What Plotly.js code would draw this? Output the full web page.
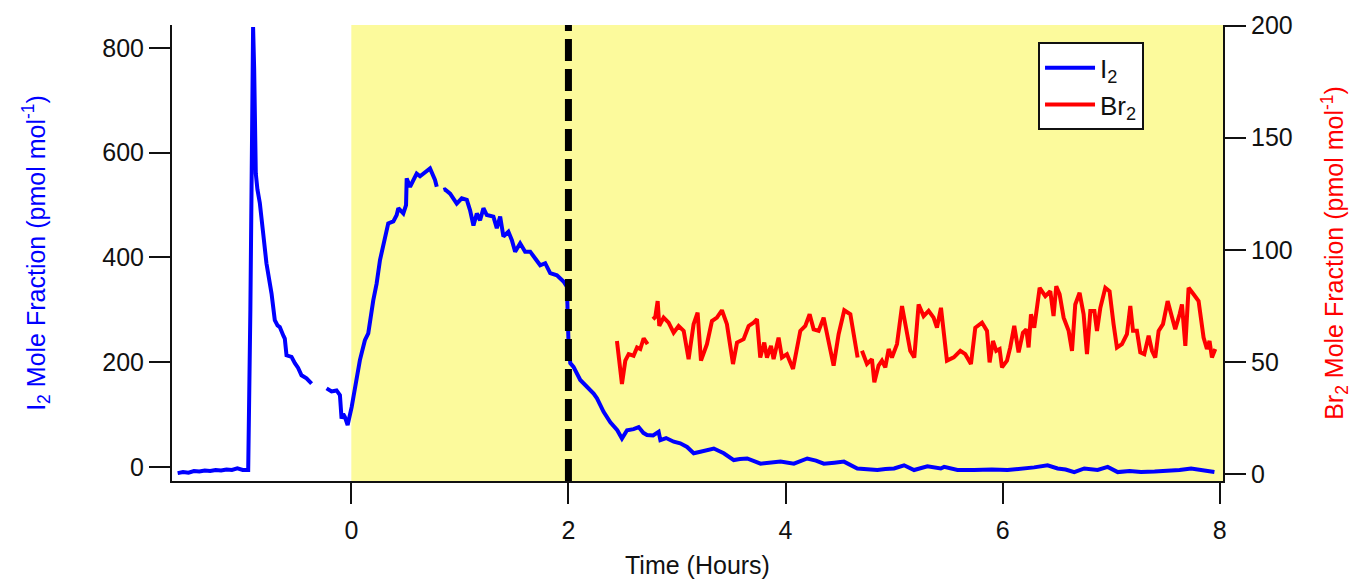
<!DOCTYPE html>
<html>
<head>
<meta charset="utf-8">
<script src="https://cdn.plot.ly/plotly-3.0.1.min.js"></script>
<style>html,body{margin:0;padding:0;background:#fff;}#chart{width:1366px;height:579px;}</style>
</head>
<body>
<div id="chart"></div>
<script>
// I2 mole fraction (pmol/mol), left axis; null = data gap
var i2Time = [-1.60,-1.55,-1.50,-1.45,-1.40,-1.35,-1.30,-1.25,-1.20,-1.15,-1.10,-1.05,-1.00,-0.97,-0.95,
  -0.93,-0.915,-0.905,-0.895,-0.89,-0.88,-0.865,-0.843,-0.812,-0.782,-0.735,-0.705,-0.68,-0.659,-0.625,-0.613,-0.597,-0.575,-0.551,-0.52,-0.49,-0.459,-0.413,-0.366,
  -0.30,
  -0.228,-0.182,-0.136,-0.105,-0.09,-0.075,-0.059,-0.034,0.003,0.049,0.079,0.125,0.156,0.202,0.233,0.264,0.294,0.34,0.387,0.418,0.433,0.479,0.504,0.51,0.541,0.57,0.602,0.633,0.663,0.725,0.771,0.787,
  0.82,
  0.848,0.863,0.91,0.971,1.017,1.064,1.094,1.125,1.156,1.186,1.217,1.248,1.309,1.34,1.371,1.401,1.447,1.479,1.509,1.555,1.601,1.648,1.694,1.74,1.786,1.832,1.894,1.955,1.986,1.992,2.001,2.017,2.047,2.109,2.201,2.232,2.263,2.324,2.386,2.45,2.493,2.54,2.6,2.647,2.69,2.724,2.78,2.831,2.847,2.9,2.97,3.03,3.093,3.154,3.216,3.28,3.339,3.431,3.523,3.58,3.647,3.77,3.85,3.954,4.077,4.2,4.28,4.353,4.45,4.538,4.661,4.75,4.846,4.92,5.0,5.092,5.184,5.307,5.43,5.461,5.584,5.737,5.9,6.045,6.17,6.29,6.414,6.506,6.58,6.66,6.752,6.875,6.968,7.06,7.17,7.275,7.4,7.52,7.63,7.736,7.85,7.951];
var i2Value = [-12,-10,-11,-8,-9,-7,-8,-6,-7,-5,-6,-3,-6,-7,-6,
  300,650,840,760,600,560,530,504,446,389,331,280,270,267,250,245,213,212,210,198,189,175,169,159,
  null,
  150,144,146,137,92,101,95,80,114,172,204,242,255,318,350,395,420,465,469,481,494,484,500,551,535,548,560,555,560,570,548,535,
  null,
  529,530,522,503,513,510,490,461,484,471,494,481,478,456,478,440,449,433,411,427,411,411,398,385,389,370,366,354,344,293,236,198,191,166,147,140,131,105,85,70,54,70,72,76,65,61,60,67,51,55,48,45,38,26,29,32,35,26,13,15,16,6,8,10,6,16,12,6,8,10,-3,-4,-6,-4,-3,3,-6,1,-3,0,-6,-6,-5,-6,-4,-1,3,-3,-5,-10,-3,-6,0,-10,-8,-10,-9,-8,-6,-3,-7,-10];

// Br2 mole fraction (pmol/mol), right axis; null = data gap
var br2Time = [2.447,2.47,2.493,2.524,2.555,2.6,2.632,2.662,2.693,2.729,
  2.75,
  2.779,2.80,2.822,2.837,2.877,2.923,2.969,3.015,3.062,3.107,3.153,3.19,3.221,3.276,3.322,3.368,3.414,3.46,3.516,3.553,3.614,3.66,3.706,3.737,3.767,3.804,3.829,3.866,3.89,3.936,3.967,4.013,4.069,4.105,4.136,4.182,4.222,4.259,4.305,4.351,4.397,4.443,4.489,4.541,4.597,4.643,4.664,
  4.68,
  4.704,4.75,4.796,4.818,4.857,4.888,4.919,4.95,4.98,5.027,5.073,5.112,5.149,5.186,5.226,5.272,5.318,5.364,5.395,5.432,5.487,5.55,5.61,5.656,5.708,5.748,5.81,5.856,5.88,5.911,5.941,5.972,5.994,6.04,6.07,6.107,6.147,6.187,6.218,6.239,6.261,6.291,6.341,6.393,6.439,6.469,6.494,6.525,6.562,6.608,6.639,6.669,6.709,6.746,6.777,6.808,6.845,6.869,6.9,6.946,6.985,7.022,7.053,7.099,7.145,7.176,7.201,7.237,7.268,7.305,7.345,7.376,7.406,7.437,7.477,7.52,7.56,7.59,7.63,7.652,7.683,7.713,7.759,7.805,7.851,7.882,7.906,7.928,7.959];
var br2Value = [59.3,50,40.1,50.5,53.4,52.7,56.4,55.7,60.5,57.9,
  null,
  69,70,77.1,66,69.7,67.5,63,66,63.8,51.2,66.8,71.9,50.5,57.9,68.2,69.7,73,66.8,49,58.6,60.1,66,67.5,69,51.9,58.6,51.9,57.1,51.2,60.8,51.9,53.4,46.8,54.9,63.8,66,71.2,64.5,63.8,69.7,59.3,48.3,62.3,73,71.2,59.3,51.9,
  null,
  54.9,49,51.2,40.9,48.3,50.5,47.5,55.7,51.9,57.9,74.9,63.8,54.9,51.9,75.6,70.4,72.7,69.7,65.2,74.1,50.5,52,54.9,53.4,49,65.2,67.5,63.8,49.7,59.3,54.9,55.7,47.5,50.5,56.4,66,54.2,63,64.5,56.4,71.2,65.2,83,79.3,81.5,70.4,83.7,80.1,69.7,63.8,54.9,75.6,80.8,71.2,53.4,72.7,72.7,63.8,74.1,83,81.5,66.8,56.4,57.9,62.3,74.9,63.8,63.8,54.2,53.4,61.6,54.9,51.9,63.8,66.8,77.1,69.7,64.5,71.2,75.6,57.1,83,80.1,77.1,60.8,55.7,59.3,51.9,55.7];

var xTickVals = [0, 2, 4, 6, 8];
var yLeftTickVals = [0, 200, 400, 600, 800];
var yRightTickVals = [0, 50, 100, 150, 200];
var shadeStart = 0;      // start of shaded period (hours)
var markerTime = 2;      // dashed line (hours)

var FONT = 'Liberation Sans, Arial, sans-serif';
var xRange = [-1.652, 8.03];

var traces = [
  {x: i2Time, y: i2Value, type: 'scatter', mode: 'lines', name: 'I<sub>2</sub>',
   line: {color: '#0000ff', width: 4}, connectgaps: false, yaxis: 'y'},
  {x: br2Time, y: br2Value, type: 'scatter', mode: 'lines', name: 'Br<sub>2</sub>',
   line: {color: '#ff0000', width: 4}, connectgaps: false, yaxis: 'y2'}
];

var axisCommon = {
  showline: true, linecolor: '#111', linewidth: 2,
  ticks: 'outside', ticklen: 21, tickwidth: 2, tickcolor: '#111',
  showgrid: false, zeroline: false,
  tickfont: {family: FONT, size: 25, color: '#111'}
};

var layout = {
  width: 1366, height: 579,
  margin: {l: 172, r: 143, t: 25, b: 98},
  paper_bgcolor: '#ffffff', plot_bgcolor: '#ffffff',
  font: {family: FONT, size: 25, color: '#111'},
  showlegend: true,
  legend: {x: 0.824, y: 0.962, xanchor: 'left', yanchor: 'top',
    bgcolor: '#ffffff', bordercolor: '#111', borderwidth: 2, itemwidth: 50,
    font: {family: FONT, size: 26, color: '#111'}},
  xaxis: Object.assign({}, axisCommon, {
    range: xRange, tickvals: xTickVals, ticklabelstandoff: 5,
    title: {text: 'Time (Hours)', font: {family: FONT, size: 25, color: '#111'}, standoff: 14}
  }),
  yaxis: Object.assign({}, axisCommon, {
    range: [-27, 844], tickvals: yLeftTickVals,
    title: {text: 'I<sub>2</sub> Mole Fraction (pmol mol<sup>-1</sup>)', font: {family: FONT, size: 25, color: '#0000ff'}, standoff: 50}
  }),
  yaxis2: Object.assign({}, axisCommon, {
    range: [-3.2, 200.3], tickvals: yRightTickVals, overlaying: 'y', side: 'right',
    title: {text: 'Br<sub>2</sub> Mole Fraction (pmol mol<sup>-1</sup>)', font: {family: FONT, size: 25, color: '#ff0000'}, standoff: 34}
  }),
  shapes: [
    {type: 'rect', xref: 'x', yref: 'paper', x0: shadeStart, x1: xRange[1], y0: 0, y1: 1,
     fillcolor: '#fcfa9c', line: {width: 0}, layer: 'below'},
    {type: 'line', xref: 'x', yref: 'paper', x0: markerTime, x1: markerTime, y0: 0, y1: 1,
     line: {color: '#000', width: 7, dash: '22px,8px'}, layer: 'above'}
  ]
};

Plotly.newPlot('chart', traces, layout, {displayModeBar: false, staticPlot: true});
</script>
</body>
</html>
